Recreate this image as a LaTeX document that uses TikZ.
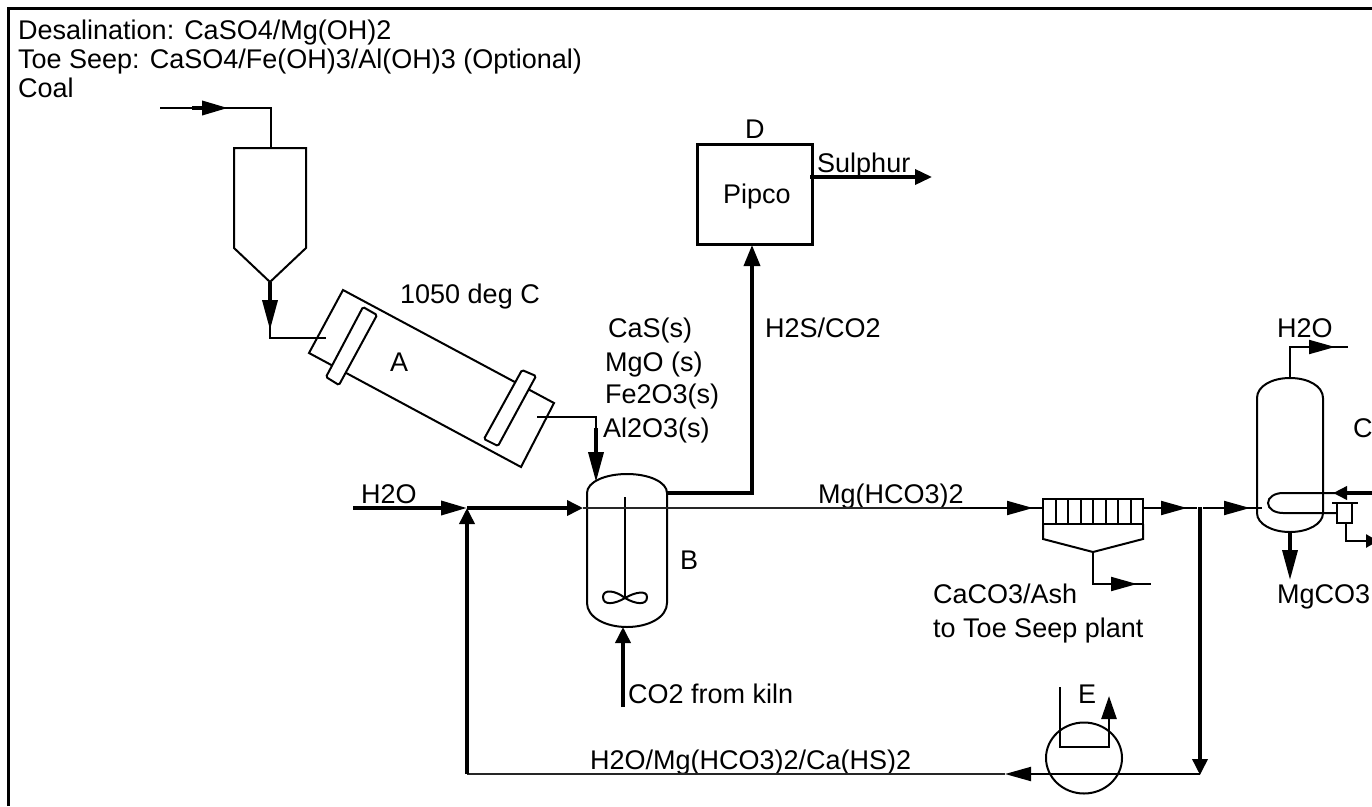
\documentclass[tikz,border=0pt]{standalone}
\usepackage{fontspec}
\setmainfont{Liberation Sans}
\usetikzlibrary{arrows.meta,shapes.geometric}
\tikzset{
 x=1pt,y=-1pt,
 lbl/.style={inner sep=0pt,font=\fontsize{27}{27}\selectfont,text=black,anchor=base west},
 eq/.style={draw=black,line width=2pt,line join=miter},
 pipe/.style={draw=black,line width=2pt,line join=miter},
 fatpipe/.style={draw=black,line width=3.6pt,line join=miter},
 finepipe/.style={draw=black!85,line width=1.4pt},
 tipH/.style={-{Triangle[length=26pt,width=14pt]}},
 tipHs/.style={-{Triangle[length=16pt,width=15pt]}},
 tipV/.style={-{Triangle[length=30pt,width=15pt]}},
 tipVs/.style={-{Triangle[length=16pt,width=15pt]}},
}
\begin{document}
\begin{tikzpicture}
\useasboundingbox (0,0) rectangle (1372,806);
\fill[white] (0,0) rectangle (1372,806);
\draw[black,line width=3pt] (8.5,806) -- (8.5,8.5) -- (1372,8.5);
% labels
\node[lbl] (t1) at (18,39) {Desalination: CaSO4/Mg(OH)2};
\node[lbl] (t2) at (18,68) {Toe Seep: CaSO4/Fe(OH)3/Al(OH)3 (Optional)};
\node[lbl] (t3) at (18,97) {Coal};
\node[lbl] (ld) at (745,138) {D};
\node[lbl] (lpipco) at (723,203) {Pipco};
\node[lbl] (lsul) at (817,172) {Sulphur};
\node[lbl] (l1050) at (400,303) {1050 deg C};
\node[lbl] (la) at (390,371) {A};
\node[lbl] (l1) at (608,337) {CaS(s)};
\node[lbl] (l2) at (605,371) {MgO (s)};
\node[lbl] (l3) at (605,403) {Fe2O3(s)};
\node[lbl] (l4) at (603,437) {Al2O3(s)};
\node[lbl] (lh2s) at (765,337) {H2S/CO2};
\node[lbl] (lh2o) at (361,503) {H2O};
\node[lbl] (lb) at (680,569) {B};
\node[lbl] (lmg) at (818,503) {Mg(HCO3)2};
\node[lbl] (lca1) at (933,603) {CaCO3/Ash};
\node[lbl] (lca2) at (933,637) {to Toe Seep plant};
\node[lbl] (lmgc) at (1277,603) {MgCO3};
\node[lbl] (lh2ot) at (1277,337) {H2O};
\node[lbl] (lc) at (1353,437) {C};
\node[lbl] (lco2) at (628,703) {CO2 from kiln};
\node[lbl] (le) at (1078,703) {E};
\node[lbl] (lrec) at (590,769) {H2O/Mg(HCO3)2/Ca(HS)2};
% coal hopper
\draw[eq] (234,148) -- (306,148) -- (306,248) -- (270,282) -- (234,248) -- cycle;
\coordinate (coalin) at (160,108);
\coordinate (coalfat) at (192,108);
\coordinate (coalmid) at (228,108);
\coordinate (coalbend) at (271,108);
\coordinate (hoptop) at (271,148);
\coordinate (hopout) at (270,282);
\coordinate (hoptip) at (270,330);
\coordinate (kilnbend) at (270,338);
\coordinate (kilnin) at (326,338);
\draw[pipe] (coalin) -- (coalbend) -- (hoptop);
\draw[fatpipe,tipH] (coalfat) -- (coalmid);
\draw[pipe] (hopout) -- (kilnbend) -- (kilnin);
\draw[fatpipe,tipV] (hopout) -- (hoptip);
% kiln
\draw[eq] (343,290) -- (554,403) -- (521,467) -- (309,353) -- cycle;
\draw[eq,fill=white,rounded corners=1.5pt] (363,307) -- (377,315) -- (339,385) -- (326,377) -- cycle;
\draw[eq,fill=white,rounded corners=1.5pt] (522,370) -- (536,376) -- (498,446) -- (484,439) -- cycle;
\coordinate (kilnout) at (537,417);
\coordinate (kilnbend2) at (596,417);
\coordinate (kilnfat) at (596,428);
\coordinate (btip) at (596,482);
\draw[pipe] (kilnout) -- (kilnbend2) -- (kilnfat);
\draw[fatpipe,tipV] (kilnfat) -- (btip);
% vessel B
\draw[eq] (587,493) .. controls (587,482) and (605,474) .. (627,474)
  .. controls (649,474) and (667,482) .. (667,493) -- (667,603)
  .. controls (667,617) and (649,627) .. (627,627)
  .. controls (605,627) and (587,617) .. (587,603) -- cycle;
\draw[pipe] (625,497) -- (625,598);
\draw[pipe] (625,598) .. controls (615,590) and (603,589) .. (603,597) .. controls (603,606) and (615,604) .. (625,598)
  .. controls (635,592) and (647,590) .. (647,597) .. controls (647,606) and (635,604) .. (625,598);
\coordinate (h2oin) at (353,508);
\coordinate (h2ojoin) at (467,508);
\coordinate (bin) at (583,508);
\coordinate (bleft) at (583,508);
\coordinate (filtfeed) at (960,508);
\coordinate (filtmid) at (1033,508);
\coordinate (filtin) at (1043,508);
\draw[fatpipe,tipH] (h2oin) -- (h2ojoin);
\draw[fatpipe] (h2ojoin) -- (568,508);
\draw[fatpipe,tipHs] (h2ojoin) -- (bin);
\draw[finepipe] (bleft) -- (filtfeed);
\draw[pipe] (filtfeed) -- (filtin);
\draw[pipe,tipH] (filtfeed) -- (filtmid);
% CO2
\coordinate (co2) at (623,707);
\coordinate (bbot) at (623,627);
\draw[fatpipe,tipVs] (co2) -- (bbot);
% to D
\node[draw=black,line width=3pt,minimum width=115pt,minimum height=100pt,inner sep=0pt] (pipco) at (754.5,194) {};
\coordinate (bout) at (667,493);
\coordinate (bbend) at (752,493);
\coordinate (dbot) at (752,245);
\draw[fatpipe,-{Triangle[length=21pt,width=16pt]}] (bout) -- (bbend) -- (dbot);
\coordinate (dright) at (810,177);
\coordinate (sulend) at (932,177);
\draw[fatpipe,-{Triangle[length=17pt,width=15pt]}] (dright) -- (sulend);
% filter
\draw[eq] (1043,499) rectangle (1143,524);
\foreach \i in {1,...,7} \draw[eq] (1043+12.5*\i,499) -- (1043+12.5*\i,524);
\draw[eq] (1043,524) -- (1043,539) -- (1093,552) -- (1143,539) -- (1143,524);
\coordinate (filtbot) at (1093,552);
\coordinate (filtbend) at (1093,584);
\coordinate (filttip) at (1137,584);
\coordinate (filtend) at (1151,584);
\draw[pipe] (filtbot) -- (filtbend) -- (filtend);
\draw[pipe,tipH] (filtbend) -- (filttip);
\coordinate (filtout) at (1143,508);
\coordinate (filttip2) at (1187,508);
\coordinate (junc1) at (1197,508);
\coordinate (junc2) at (1203,508);
\coordinate (ctip) at (1250,508);
\coordinate (cin) at (1262,508);
\draw[pipe] (filtout) -- (junc1);
\draw[pipe,tipH] (filtout) -- (filttip2);
\draw[pipe] (junc2) -- (cin);
\draw[pipe,tipH] (junc2) -- (ctip);
% recycle
\coordinate (jtop) at (1200,507);
\coordinate (jbot) at (1200,775);
\coordinate (rectip) at (1005,774);
\coordinate (rec1) at (1200,774);
\coordinate (rec2) at (467,774);
\coordinate (recup) at (467,508);
\draw[fatpipe,tipVs] (jtop) -- (jbot);
\draw[finepipe] (rectip) -- (rec2);
\draw[pipe,tipH] (rec1) -- (rectip);
\draw[fatpipe,tipVs] (rec2) -- (recup);
% E
\node[ellipse,draw=black,line width=2pt,minimum width=76pt,minimum height=71pt,inner sep=0pt] (hx) at (1084,758) {};
\coordinate (u1) at (1060,687);
\coordinate (u2) at (1060,747);
\coordinate (u3) at (1109,747);
\coordinate (u4) at (1109,696);
\draw[pipe,line width=2.6pt,-{Triangle[length=23pt,width=15pt]}] (u1) -- (u2) -- (u3) -- (u4);
% vessel C
\draw[eq] (1257,398) .. controls (1257,386) and (1272,378) .. (1290,378)
  .. controls (1308,378) and (1323,386) .. (1323,398) -- (1323,513)
  .. controls (1323,524) and (1308,532) .. (1290,532)
  .. controls (1272,532) and (1257,524) .. (1257,513) -- cycle;
\coordinate (ctop) at (1290,378);
\coordinate (ctopb) at (1290,347);
\coordinate (ctopf) at (1300,347);
\coordinate (ctopt) at (1335,347);
\coordinate (ctope) at (1348,347);
\draw[pipe] (ctop) -- (ctopb) -- (ctope);
\draw[pipe,tipH] (ctopb) -- (ctopt);
\coordinate (cbot) at (1290,532);
\coordinate (cbott) at (1290,580);
\draw[fatpipe,tipV] (cbot) -- (cbott);
% coil
\coordinate (coilin) at (1372,493);
\coordinate (coilt) at (1333,493);
\coordinate (coila) at (1283,493);
\coordinate (coilb) at (1283,513);
\coordinate (coile) at (1337,513);
\draw[pipe] (coilin) -- (coila) .. controls (1275,493) and (1268,497) .. (1268,503) .. controls (1268,509) and (1275,513) .. (coilb) -- (coile);
\draw[fatpipe,-{Triangle[length=14pt,width=13pt]}] (coilin) -- (coilt);
% trap
\node[draw=black,line width=2pt,minimum width=15pt,minimum height=20pt,inner sep=0pt] (trap) at (1344.5,513) {};
\coordinate (bar1) at (1332,503);
\coordinate (bar2) at (1358,503);
\draw[pipe] (bar1) -- (bar2);
\coordinate (trapo) at (1346,523);
\coordinate (trapb) at (1346,541);
\coordinate (trape) at (1378,541);
\draw[pipe,line width=2.6pt,-{Triangle[length=12pt,width=13pt]}] (trapo) -- (trapb) -- (trape);
\end{tikzpicture}
\end{document}
